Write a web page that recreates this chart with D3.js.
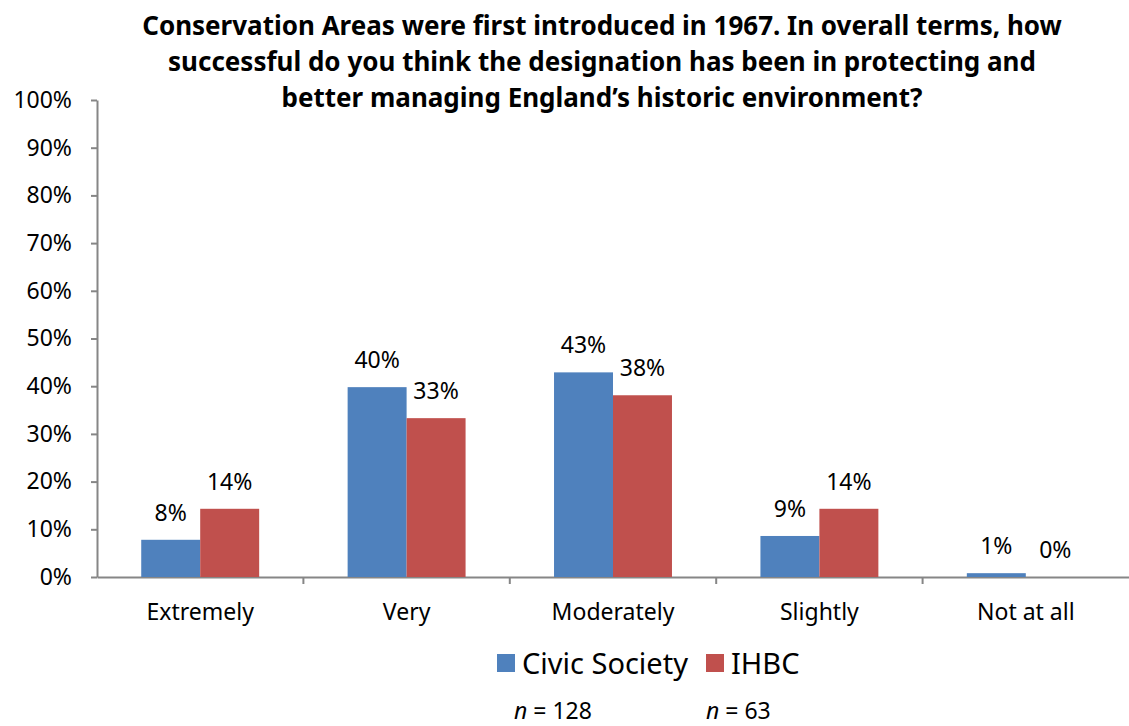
<!DOCTYPE html>
<html>
<head>
<meta charset="utf-8">
<script src="https://cdn.jsdelivr.net/npm/d3@7"></script>
<style>
  body { margin: 0; background: #fff; }
  text { font-family: "Noto Sans", "Open Sans", sans-serif; }
</style>
</head>
<body>
<svg id="chart" width="1129" height="726"></svg>
<script>
// data
let categories = ["Extremely", "Very", "Moderately", "Slightly", "Not at all"];
let seriesNames = ["Civic Society", "IHBC"];
let civicValues = [7.8, 39.8, 42.9, 8.6, 0.8];
let ihbcValues = [14.3, 33.3, 38.1, 14.3, 0];
let civicLabels = ["8%", "40%", "43%", "9%", "1%"];
let ihbcLabels = ["14%", "33%", "38%", "14%", "0%"];
let yTicks = [0, 10, 20, 30, 40, 50, 60, 70, 80, 90, 100];
let sampleSizes = ["128", "63"];
let titleLines = [
    "Conservation Areas were first introduced in 1967. In overall terms, how",
    "successful do you think the designation has been in protecting and",
    "better managing England\u2019s historic environment?"
];
let colors = ["#4F81BD", "#C0504D"];

let svg = d3.select("#chart");
let plotLeft = 97, plotRight = 1129, plotTop = 100, plotBottom = 577;
let fontFam = "\"Noto Sans\", \"Open Sans\", sans-serif";

let x = d3.scaleBand().domain(categories).range([plotLeft, plotRight]).paddingInner(0).paddingOuter(0);
let xs = d3.scaleBand().domain(seriesNames).range([0, x.bandwidth()]).paddingInner(0).paddingOuter(0.75);
let y = d3.scaleLinear().domain([0, 100]).range([plotBottom, plotTop]);

// title
svg.append("g").selectAll("text").data(titleLines).join("text")
    .attr("x", 602)
    .attr("y", (d, i) => 35 + i * 36)
    .attr("text-anchor", "middle")
    .attr("font-size", 26)
    .attr("font-weight", "bold")
    .attr("fill", "#000")
    .text(d => d);

// y axis
let yAxis = svg.append("g").attr("transform", "translate(" + plotLeft + ",0)")
    .call(d3.axisLeft(y).tickValues(yTicks).tickSize(6).tickSizeOuter(0).tickFormat(d => d + "%"))
yAxis.select(".domain").attr("stroke", "#868686").attr("stroke-width", 2)
yAxis.selectAll(".tick line").attr("stroke", "#868686").attr("stroke-width", 2)
yAxis.selectAll(".tick text").attr("font-size", 23).attr("fill", "#000").attr("x", -25)
    .style("font-family", fontFam);

// x axis with ticks at the category boundaries
let xAxis = svg.append("g").attr("transform", "translate(0," + plotBottom + ")")
    .call(d3.axisBottom(x).tickSize(0).tickSizeOuter(0))
xAxis.select(".domain").attr("stroke", "#868686").attr("stroke-width", 2)
xAxis.selectAll(".tick text").attr("font-size", 23).attr("fill", "#000").attr("dy", 0).attr("y", 43)
    .style("font-family", fontFam);
svg.append("g").selectAll("line").data(categories.slice(1)).join("line")
    .attr("x1", d => x(d)).attr("x2", d => x(d))
    .attr("y1", plotBottom).attr("y2", plotBottom + 7)
    .attr("stroke", "#868686").attr("stroke-width", 2);

// bars
let rows = categories.map((c, i) => ({cat: c, vals: [civicValues[i], ihbcValues[i]], labels: [civicLabels[i], ihbcLabels[i]]}));
let groups = svg.append("g").selectAll("g").data(rows).join("g")
    .attr("transform", d => "translate(" + x(d.cat) + ",0)");

groups.selectAll("rect").data(d => d.vals.map((v, j) => ({v: v, s: seriesNames[j], j: j}))).join("rect")
    .attr("x", d => xs(d.s))
    .attr("y", d => y(d.v))
    .attr("width", xs.bandwidth())
    .attr("height", d => plotBottom - y(d.v))
    .attr("fill", d => colors[d.j]);

groups.selectAll("text").data(d => d.vals.map((v, j) => ({v: v, s: seriesNames[j], lab: d.labels[j]}))).join("text")
    .attr("x", d => xs(d.s) + xs.bandwidth() / 2)
    .attr("y", d => y(d.v) - 19)
    .attr("text-anchor", "middle")
    .attr("font-size", 23)
    .attr("fill", "#000")
    .text(d => d.lab);

// legend
let legendX = [497, 706];
let legend = svg.append("g").selectAll("g").data(seriesNames).join("g")
    .attr("transform", (d, i) => "translate(" + legendX[i] + ",654)");
legend.append("rect").attr("width", 18).attr("height", 18).attr("fill", (d, i) => colors[i]);
legend.append("text").attr("x", 25).attr("y", 20).attr("font-size", 29).attr("fill", "#000").text(d => d);

// sample sizes
let nText = svg.append("g").selectAll("text").data(sampleSizes).join("text")
    .attr("x", (d, i) => [514, 706][i])
    .attr("y", 719)
    .attr("font-size", 23)
    .attr("fill", "#000");
nText.append("tspan").attr("font-style", "italic").text("n");
nText.append("tspan").text(d => " = " + d);
</script>
</body>
</html>
